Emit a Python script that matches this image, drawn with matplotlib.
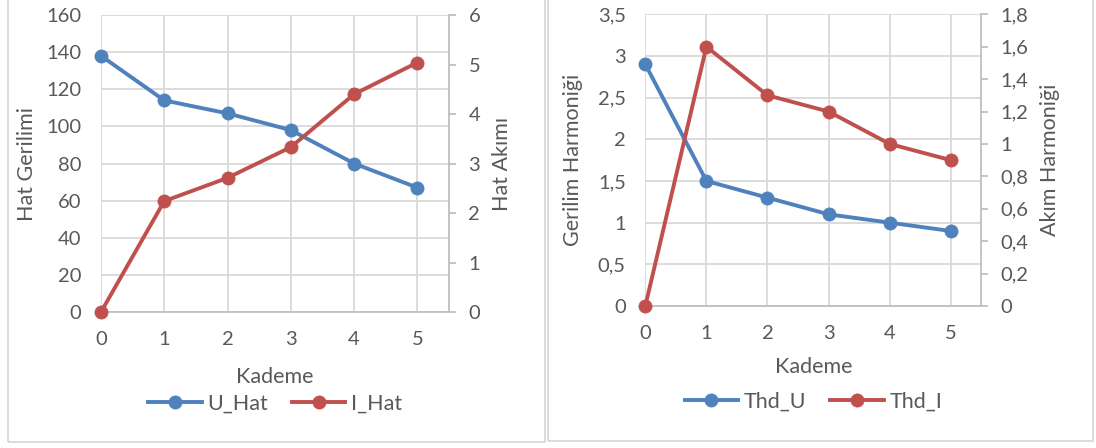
import matplotlib
matplotlib.use("Agg")
import matplotlib.pyplot as plt
from matplotlib.patches import Rectangle
from matplotlib.lines import Line2D

# --- data ---
kademe = [0, 1, 2, 3, 4, 5]
u_hat = [138, 114, 107, 98, 80, 67]
i_hat = [0, 2.24, 2.71, 3.33, 4.40, 5.04]
thd_u = [2.9, 1.5, 1.3, 1.1, 1.0, 0.9]
thd_i = [0, 1.6, 1.3, 1.2, 1.0, 0.9]

left_ticks = [0, 20, 40, 60, 80, 100, 120, 140, 160]
right_ticks = [0, 1, 2, 3, 4, 5, 6]
thdu_ticks = [0, 0.5, 1, 1.5, 2, 2.5, 3, 3.5]
thdi_ticks = [0, 0.2, 0.4, 0.6, 0.8, 1, 1.2, 1.4, 1.6, 1.8]

BLUE = "#4F81BD"
RED = "#C0504D"
TXT = "#595959"
GRID = "#D9D9D9"
AXL = "#BFBFBF"

plt.rcParams["font.family"] = ["Lato", "DejaVu Sans"]

W, H = 1096, 448
fig = plt.figure(figsize=(W / 100, H / 100), dpi=100)

LW = 2.8
MS = 9.5
MEW = 0.5


def px_axes(x0, y0, x1, y1):
    return fig.add_axes([x0 / W, 1 - y1 / H, (x1 - x0) / W, (y1 - y0) / H])


def comma(v):
    s = f"{v:g}"
    return s.replace(".", ",")


def make_chart(box, rect, y1, y2, t1, t2, lab1, lab2, names,
               ylab_x, y2lab_x, xlab_y, leg_y):
    # chart frame
    bx0, by0, bx1, by1 = box
    fig.patches.append(Rectangle((bx0 / W, 1 - by1 / H), (bx1 - bx0) / W,
                                 (by1 - by0) / H, transform=fig.transFigure,
                                 fill=False, edgecolor="#D9D9D9", lw=1.3))
    ax = px_axes(*rect)
    ax2 = ax.twinx()
    xmax = 5.5
    for a in (ax, ax2):
        a.set_xlim(0, xmax)
        for s in a.spines.values():
            s.set_visible(False)
    ax.set_ylim(t1[0], t1[-1])
    ax2.set_ylim(t2[0], t2[-1])
    ax.set_yticks(t1)
    ax.set_yticklabels([comma(v) for v in t1])
    ax2.set_yticks(t2)
    ax2.set_yticklabels([comma(v) for v in t2])
    ax.set_xticks(kademe)
    ax.grid(True, color=GRID, lw=1.3)
    ax.set_axisbelow(True)
    ax.spines["bottom"].set_visible(True)
    ax.spines["bottom"].set_color(AXL)
    ax.spines["bottom"].set_linewidth(1.3)
    ax2.spines["right"].set_visible(True)
    ax2.spines["right"].set_color(AXL)
    ax2.spines["right"].set_linewidth(1.3)
    ax.tick_params(axis="y", length=0, pad=14, labelsize=14.5, labelcolor=TXT)
    ax.tick_params(axis="x", length=0, pad=14, labelsize=14.5, labelcolor=TXT)
    ax2.tick_params(axis="y", length=5, width=1.3, color=AXL, pad=9,
                    labelsize=14.5, labelcolor=TXT)

    ax.plot(kademe, y1, color=BLUE, lw=LW, marker="o", ms=MS, mew=MEW,
            solid_capstyle="round", clip_on=False, zorder=3)
    ax2.plot(kademe, y2, color=RED, lw=LW, marker="o", ms=MS, mew=MEW,
             solid_capstyle="round", clip_on=False, zorder=3)

    cx = (rect[0] + rect[2]) / 2
    cy = (rect[1] + rect[3]) / 2
    fig.text(ylab_x / W, 1 - cy / H, lab1, rotation=90, ha="center",
             va="center", fontsize=15.5, color=TXT)
    fig.text(y2lab_x / W, 1 - cy / H, lab2, rotation=90, ha="center",
             va="center", fontsize=15.5, color=TXT)
    fig.text(cx / W, 1 - xlab_y / H, "Kademe", ha="center", va="center",
             fontsize=15.5, color=TXT)

    handles = [Line2D([], [], color=BLUE, lw=LW, marker="o", ms=MS, mew=MEW),
               Line2D([], [], color=RED, lw=LW, marker="o", ms=MS, mew=MEW)]
    fig.legend(handles, names, loc="center", ncol=2,
               bbox_to_anchor=(cx / W, 1 - leg_y / H), frameon=False,
               fontsize=15.5, labelcolor=TXT, handlelength=2.5,
               handletextpad=0.25, columnspacing=1.1)


make_chart((7.5, -5, 545, 442), (101, 15, 449, 312), u_hat, i_hat,
           left_ticks, right_ticks, "Hat Gerilimi", "Hat Akımı",
           ["U_Hat", "I_Hat"], 27, 502, 377, 404)
make_chart((547.5, -5, 1093, 441), (645.3, 14.3, 981.3, 306), thd_u, thd_i,
           thdu_ticks, thdi_ticks, "Gerilim Harmoniği", "Akım Harmoniği",
           ["Thd_U", "Thd_I"], 573, 1050, 367, 402)

fig.savefig("out.png", dpi=100, facecolor="white")
